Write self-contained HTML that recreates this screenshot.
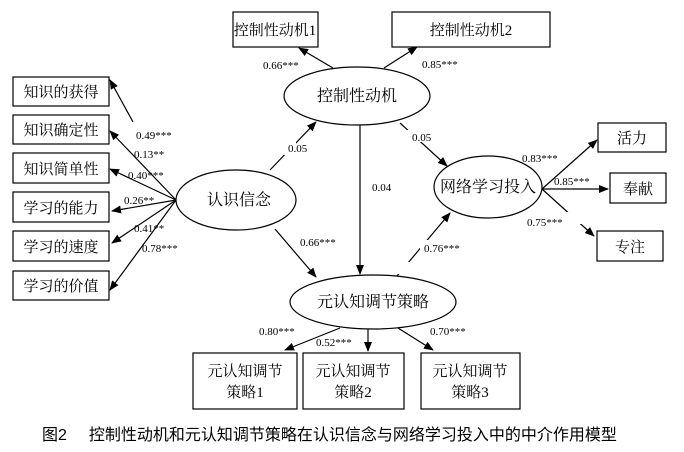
<!DOCTYPE html>
<html><head><meta charset="utf-8"><style>
html,body{margin:0;padding:0;background:#fff;}
svg{display:block;}
text{font-family:"Liberation Serif","Noto Serif CJK SC",serif;fill:#000;}
.c{font-family:"Liberation Serif","Noto Sans CJK SC",sans-serif;font-size:15px;}
.n{font-family:"Liberation Sans","DejaVu Sans",sans-serif;font-size:11px;}
.cap{font-family:"Liberation Sans","Noto Sans CJK SC",sans-serif;font-size:16px;}
</style></head><body>
<svg width="684" height="452" viewBox="0 0 684 452" xmlns="http://www.w3.org/2000/svg">
<defs><marker id="a" markerWidth="10" markerHeight="8" refX="9" refY="4" orient="auto" markerUnits="userSpaceOnUse"><path d="M0,0 L10,4 L0,8 z" fill="#000"/></marker></defs>
<g fill="#fff" stroke="#000" stroke-width="1.2">
<rect x="13" y="77" width="96" height="29"/>
<rect x="13" y="115" width="96" height="29"/>
<rect x="13" y="153" width="96" height="30"/>
<rect x="13" y="192" width="96" height="30"/>
<rect x="13" y="231" width="96" height="30"/>
<rect x="13" y="271" width="96" height="29"/>
<rect x="233" y="12" width="85" height="35"/>
<rect x="392" y="12" width="158" height="35"/>
<rect x="598" y="123" width="68" height="29"/>
<rect x="610" y="173" width="56" height="30"/>
<rect x="597" y="231" width="66" height="30"/>
<rect x="193" y="353" width="104" height="56"/>
<rect x="303" y="353" width="101" height="56"/>
<rect x="421" y="353" width="99" height="56"/>
<ellipse cx="236" cy="200" rx="60" ry="30"/>
<ellipse cx="357" cy="96" rx="73" ry="29"/>
<ellipse cx="488" cy="187" rx="54" ry="31"/>
<ellipse cx="373" cy="302" rx="83" ry="27"/>
</g>
<g stroke="#000" stroke-width="1.2" fill="none" marker-end="url(#a)">
<line x1="133" y1="122" x2="110" y2="80"/>
<line x1="176" y1="200" x2="110" y2="131"/>
<line x1="176" y1="200" x2="110" y2="169"/>
<line x1="176" y1="200" x2="112" y2="211"/>
<line x1="176" y1="200" x2="112" y2="243"/>
<line x1="176" y1="200" x2="110" y2="290"/>
<line x1="270" y1="170" x2="316" y2="122"/>
<line x1="275" y1="229" x2="316" y2="277"/>
<line x1="333" y1="68" x2="299" y2="48"/>
<line x1="384" y1="68" x2="417" y2="47"/>
<line x1="360" y1="125" x2="360" y2="274"/>
<line x1="400" y1="123" x2="447" y2="166"/>
<line x1="397" y1="276" x2="450" y2="213"/>
<line x1="542" y1="189" x2="597" y2="140"/>
<line x1="542" y1="189" x2="608" y2="189"/>
<line x1="542" y1="189" x2="594" y2="236"/>
<line x1="340" y1="328" x2="285" y2="350"/>
<line x1="368" y1="329" x2="368" y2="351"/>
<line x1="398" y1="328" x2="433" y2="350"/>
</g>
<g fill="#fff">
<rect x="137" y="130" width="45" height="10"/><rect x="260" y="140" width="36" height="15"/>
<rect x="295" y="237" width="50" height="13"/><rect x="398" y="130" width="34" height="12"/>
<rect x="420" y="240" width="48" height="13"/><rect x="552" y="212" width="44" height="12"/>
<rect x="395" y="262" width="25" height="12"/>
</g>
<g class="c" text-anchor="middle">
<text x="61" y="97">知识的获得</text><text x="61" y="135">知识确定性</text><text x="61" y="174">知识简单性</text>
<text x="61" y="213">学习的能力</text><text x="61" y="252">学习的速度</text><text x="61" y="291">学习的价值</text>
<text x="275" y="35">控制性动机1</text><text x="471" y="35">控制性动机2</text>
<text x="632" y="143">活力</text><text x="638" y="194">奉献</text><text x="630" y="252">专注</text>
<text x="245" y="376">元认知调节</text><text x="245" y="397">策略1</text>
<text x="353" y="376">元认知调节</text><text x="353" y="397">策略2</text>
<text x="470" y="376">元认知调节</text><text x="470" y="397">策略3</text>
<text x="239" y="205" font-size="16">认识信念</text><text x="357" y="101" font-size="16">控制性动机</text>
<text x="488" y="192" font-size="16">网络学习投入</text><text x="373" y="307" font-size="16">元认知调节策略</text>
</g>
<g class="n">
<text x="263" y="69">0.66***</text><text x="422" y="68">0.85***</text>
<text x="136" y="139">0.49***</text><text x="134" y="158">0.13**</text><text x="128" y="179">0.40***</text>
<text x="124" y="204">0.26**</text><text x="134" y="232">0.41**</text><text x="142" y="252">0.78***</text>
<text x="288" y="152">0.05</text><text x="412" y="141">0.05</text><text x="372" y="191">0.04</text>
<text x="300" y="246">0.66***</text><text x="424" y="252">0.76***</text>
<text x="522" y="162">0.83***</text><text x="554" y="185">0.85***</text><text x="527" y="226">0.75***</text>
<text x="259" y="335">0.80***</text><text x="316" y="346">0.52***</text><text x="430" y="335">0.70***</text>
</g>
<text class="cap" x="42" y="440">图2　<tspan dx="6">控制性动机和元认知调节策略在认识信念与网络学习投入中的中介作用模型</tspan></text>
</svg>
</body></html>
